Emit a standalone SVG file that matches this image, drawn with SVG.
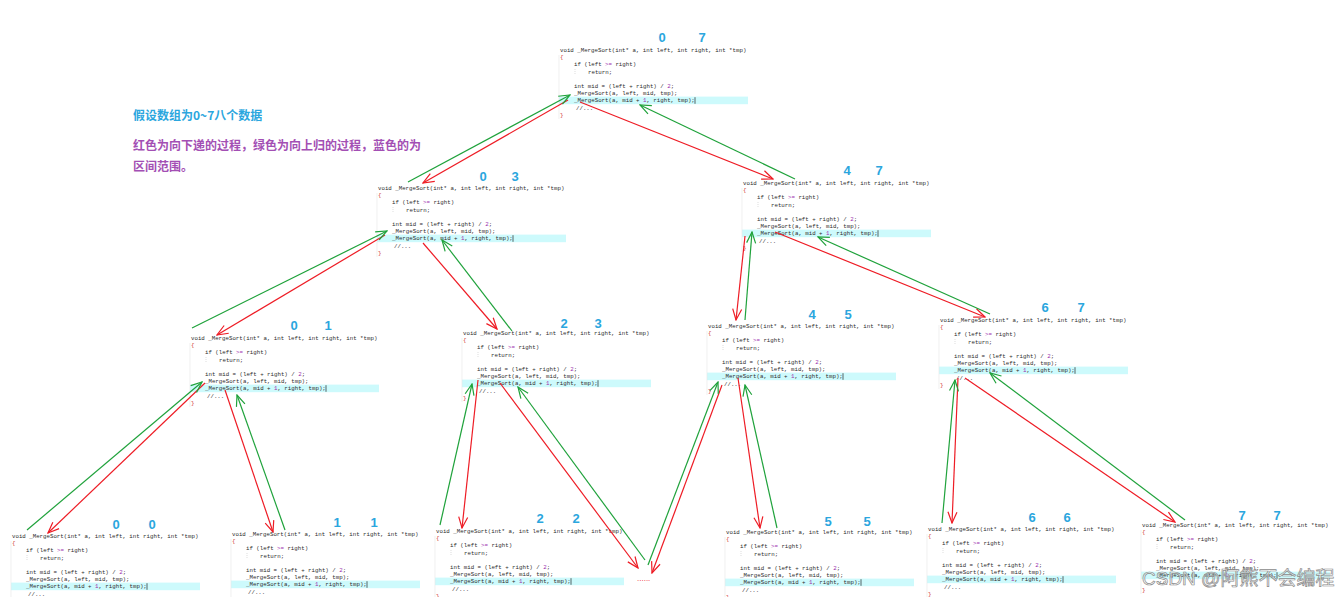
<svg xmlns="http://www.w3.org/2000/svg" width="1342" height="597" viewBox="0 0 1342 597">
<style>
.c{font-family:"Liberation Mono",monospace;font-size:5.75px;fill:#2b2b2b}
.br{fill:#d0312d}
.nu{fill:#9b2fae}
.n{font-family:"Liberation Sans",Arial,sans-serif;font-size:13px;font-weight:bold;fill:#2ba6de;text-anchor:middle}
.t1{font-family:"Noto Sans CJK SC","Noto Sans",sans-serif;font-size:12px;font-weight:bold;fill:#2ba6de}
.t2{font-family:"Noto Sans CJK SC","Noto Sans",sans-serif;font-size:12px;font-weight:bold;fill:#a34fb4}
.r{stroke:#ee1c25;stroke-width:1.2;fill:none;marker-end:url(#mr)}
.g{stroke:#1fa23b;stroke-width:1.2;fill:none;marker-end:url(#mg)}
</style>
<defs>
<marker id="mr" viewBox="-13 -6 14 12" refX="0" refY="0" markerWidth="14" markerHeight="12" markerUnits="userSpaceOnUse" orient="auto"><path d="M-11,-4.5 L0,0 L-11,4.5" fill="none" stroke="#ee1c25" stroke-width="1.2"/></marker>
<marker id="mg" viewBox="-13 -6 14 12" refX="0" refY="0" markerWidth="14" markerHeight="12" markerUnits="userSpaceOnUse" orient="auto"><path d="M-11,-4.5 L0,0 L-11,4.5" fill="none" stroke="#1fa23b" stroke-width="1.2"/></marker>
<g id="code">
<rect x="-1" y="44.6" width="189" height="7.6" fill="#cdfafc"/>
<line x1="-1" y1="3" x2="-1" y2="67" stroke="#e6e6e6" stroke-width="0.6"/>
<line x1="15" y1="17" x2="15" y2="23" stroke="#bbb" stroke-width="0.5" stroke-dasharray="1,1"/>
<text class="c" x="0" y="0">void _MergeSort(int* a, int left, int right, int *tmp)</text>
<text class="c br" x="0" y="7.2">{</text>
<text class="c" x="14" y="14.4">if (left <tspan class="nu">&gt;=</tspan> right)</text>
<text class="c" x="28" y="21.6">return;</text>
<text class="c" x="14" y="36">int mid = (left + right) / <tspan class="nu">2</tspan>;</text>
<text class="c" x="14" y="43.2">_MergeSort(a, left, mid, tmp);</text>
<text class="c" x="14" y="50.4">_MergeSort(a, mid + <tspan class="nu">1</tspan>, right, tmp);</text>
<line x1="135" y1="45.2" x2="135" y2="51.8" stroke="#000" stroke-width="0.6"/>
<text class="c" x="16" y="57.6" fill="#6a8a6a">//...</text>
<text class="c br" x="0" y="64.8">}</text>
</g>
</defs>
<rect width="1342" height="597" fill="#fff"/>

<g id="note">
<text class="t1" x="133" y="120">假设数组为0~7八个数据</text>
<text class="t2" x="133" y="150">红色为向下递的过程，绿色为向上归的过程，蓝色的为</text>
<text class="t2" x="133" y="171">区间范围。</text>
</g>

<g id="n0_7"><use href="#code" x="560" y="52"/><text class="n" x="662" y="42">0</text><text class="n" x="702" y="42">7</text></g>
<g id="n0_3"><use href="#code" x="378" y="190"/><text class="n" x="483" y="181">0</text><text class="n" x="515" y="181">3</text></g>
<g id="n4_7"><use href="#code" x="743" y="185"/><text class="n" x="847" y="175">4</text><text class="n" x="879" y="175">7</text></g>
<g id="n0_1"><use href="#code" x="191" y="340"/><text class="n" x="294" y="330">0</text><text class="n" x="328" y="330">1</text></g>
<g id="n2_3"><use href="#code" x="463" y="335"/><text class="n" x="564" y="328">2</text><text class="n" x="598" y="328">3</text></g>
<g id="n4_5"><use href="#code" x="708" y="328"/><text class="n" x="812" y="319">4</text><text class="n" x="848" y="319">5</text></g>
<g id="n6_7"><use href="#code" x="940" y="322"/><text class="n" x="1045" y="312">6</text><text class="n" x="1081" y="312">7</text></g>
<g id="n0_0"><use href="#code" x="12" y="538"/><text class="n" x="116" y="529">0</text><text class="n" x="152" y="529">0</text></g>
<g id="n1_1"><use href="#code" x="232" y="536"/><text class="n" x="337" y="527">1</text><text class="n" x="374" y="527">1</text></g>
<g id="n2_2"><use href="#code" x="436" y="533"/><text class="n" x="540" y="523">2</text><text class="n" x="576" y="523">2</text></g>
<g id="n5_5"><use href="#code" x="726" y="534"/><text class="n" x="828" y="526">5</text><text class="n" x="867" y="526">5</text></g>
<g id="n6_6"><use href="#code" x="928" y="531"/><text class="n" x="1032" y="522">6</text><text class="n" x="1067" y="522">6</text></g>
<g id="n7_7"><use href="#code" x="1142" y="527"/><text class="n" x="1242" y="520">7</text><text class="n" x="1277" y="520">7</text></g>
<g id="more"><text x="637" y="581" font-family="Liberation Sans,sans-serif" font-size="8" fill="#ee1c25">......</text></g>

<g id="connectors">
<line class="r" x1="568" y1="100" x2="423" y2="183"/>
<line class="r" x1="580" y1="102" x2="773" y2="179"/>
<line class="r" x1="385" y1="235" x2="217" y2="335"/>
<line class="r" x1="423" y1="243" x2="497" y2="329"/>
<line class="r" x1="745" y1="236" x2="736" y2="320"/>
<line class="r" x1="775" y1="232" x2="985" y2="317"/>
<line class="r" x1="205" y1="383" x2="48" y2="533"/>
<line class="r" x1="225" y1="390" x2="273" y2="532"/>
<line class="r" x1="478" y1="380" x2="462" y2="528"/>
<line class="r" x1="500" y1="383" x2="638" y2="568"/>
<line class="r" x1="722" y1="385" x2="652" y2="573"/>
<line class="r" x1="738" y1="378" x2="760" y2="528"/>
<line class="r" x1="958" y1="378" x2="952" y2="523"/>
<line class="r" x1="965" y1="378" x2="1175" y2="522"/>
<line class="g" x1="408" y1="182" x2="570" y2="95"/>
<line class="g" x1="795" y1="179" x2="640" y2="105"/>
<line class="g" x1="192" y1="328" x2="387" y2="231"/>
<line class="g" x1="512" y1="331" x2="442" y2="240"/>
<line class="g" x1="745" y1="320" x2="752" y2="232"/>
<line class="g" x1="990" y1="314" x2="818" y2="237"/>
<line class="g" x1="27" y1="530" x2="202" y2="382"/>
<line class="g" x1="285" y1="530" x2="237" y2="395"/>
<line class="g" x1="440" y1="525" x2="472" y2="384"/>
<line class="g" x1="645" y1="560" x2="518" y2="387"/>
<line class="g" x1="648" y1="565" x2="718" y2="382"/>
<line class="g" x1="777" y1="528" x2="745" y2="385"/>
<line class="g" x1="942" y1="523" x2="955" y2="380"/>
<line class="g" x1="1185" y1="520" x2="990" y2="373"/>
</g>

<g id="watermark"><text x="1142" y="585" font-family="Liberation Sans,'Noto Sans CJK SC',sans-serif" font-size="19" fill="#fff" fill-opacity="0.55" stroke="#8a8a8a" stroke-width="0.7">CSDN @阿熊不会编程</text></g>
</svg>
